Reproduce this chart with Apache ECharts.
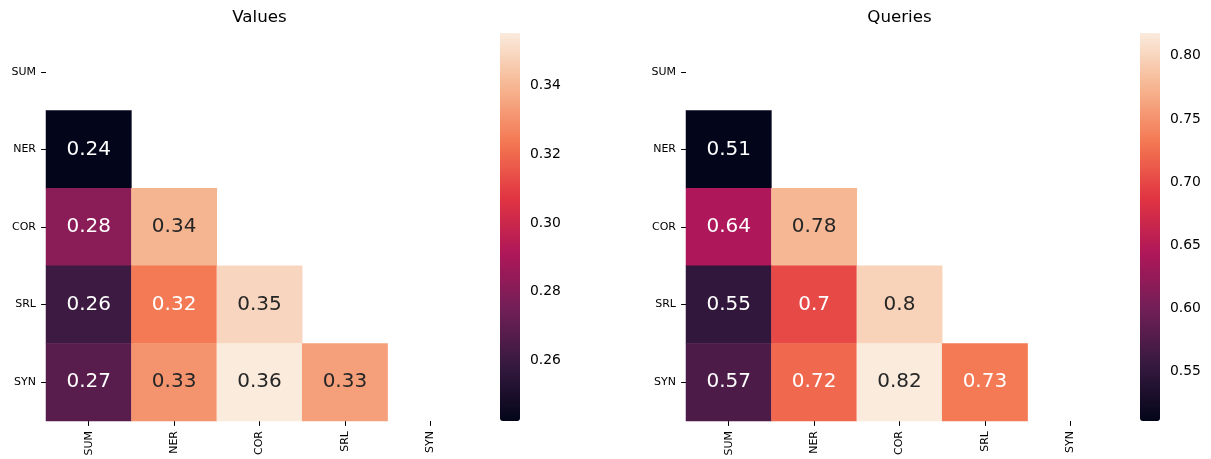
<!DOCTYPE html>
<html>
<head>
<meta charset="utf-8">
<script src="https://cdn.jsdelivr.net/npm/echarts@6/dist/echarts.min.js"></script>
<style>
    html, body { margin: 0; padding: 0; background: #fff; }
    #chart { width: 1211px; height: 459px; }
</style>
</head>
<body>
<div id="chart"></div>
<script>
    // task names (rows and columns)
    const tasks = ['SUM', 'NER', 'COR', 'SRL', 'SYN'];

    // lower triangle only, row i has i values (the rest is masked)
    const valuesLower = [
        [],
        [0.2423],
        [0.2815, 0.3396],
        [0.2604, 0.324, 0.349],
        [0.268, 0.331, 0.3554, 0.334]
    ];
    const queriesLower = [
        [],
        [0.511],
        [0.643, 0.777],
        [0.551, 0.701, 0.798],
        [0.572, 0.722, 0.818, 0.733]
    ];

    // colorbar ranges and ticks
    const valuesRange = [0.2423, 0.3554];
    const queriesRange = [0.511, 0.818];
    const valuesTicks = [0.26, 0.28, 0.30, 0.32, 0.34];
    const queriesTicks = [0.55, 0.60, 0.65, 0.70, 0.75, 0.80];

    // seaborn "rocket"
    const rocket = ['#03051a', '#35193e', '#701f57', '#ad1759', '#e13342', '#f37651', '#f6b48f', '#faebdd'];

    const font = 'DejaVu Sans';

    function fmt2g(v) {
        return Number(v.toPrecision(2)).toString();
    }

    function buildData(lower, range) {
        let out = [];
        lower.forEach(function (row, i) {
            row.forEach(function (v, j) {
                let t = (v - range[0]) / (range[1] - range[0]);
                out.push({
                    value: [j, i, v],
                    label: { color: t > 0.75 ? '#262626' : '#ffffff' }
                });
            });
        });
        return out;
    }

    let chart = echarts.init(document.getElementById('chart'));

    // panel positions
    const panels = [
        { title: 'Values', left: 46, cbLeft: 500, range: valuesRange, ticks: valuesTicks, data: valuesLower },
        { title: 'Queries', left: 686, cbLeft: 1140, range: queriesRange, ticks: queriesTicks, data: queriesLower }
    ];
    const plotTop = 33, plotHeight = 388, plotWidth = 427;

    let option = {
        animation: false,
        backgroundColor: '#fff',
        title: [],
        grid: [],
        xAxis: [],
        yAxis: [],
        visualMap: [],
        series: []
    };

    panels.forEach(function (p, k) {
        option.title.push({
            text: p.title,
            left: p.left + plotWidth / 2,
            textAlign: 'center',
            top: 9,
            padding: 0,
            textStyle: { fontFamily: font, fontSize: 16.7, fontWeight: 'normal', color: '#000' }
        });

        // heatmap grid
        option.grid.push({ left: p.left, top: plotTop, width: plotWidth, height: plotHeight });
        option.xAxis.push({
            type: 'category',
            gridIndex: 2 * k,
            data: tasks,
            axisLine: { show: false },
            axisTick: { show: true, length: 4.9, alignWithLabel: true, lineStyle: { color: '#000', width: 1 } },
            axisLabel: { rotate: 90, fontFamily: font, fontSize: 11, color: '#000', margin: 10 },
            splitLine: { show: false },
            splitArea: { show: false }
        });
        option.yAxis.push({
            type: 'category',
            gridIndex: 2 * k,
            data: tasks,
            inverse: true,
            axisLine: { show: false },
            axisTick: { show: true, length: 4.9, alignWithLabel: true, lineStyle: { color: '#000', width: 1 } },
            axisLabel: { fontFamily: font, fontSize: 11, color: '#000', margin: 10 },
            splitLine: { show: false },
            splitArea: { show: false }
        });

        // colorbar axis grid
        option.grid.push({ left: p.cbLeft, top: plotTop, width: 20, height: plotHeight });
        option.xAxis.push({ type: 'value', gridIndex: 2 * k + 1, show: false });
        option.yAxis.push({
            type: 'value',
            gridIndex: 2 * k + 1,
            position: 'right',
            min: p.range[0],
            max: p.range[1],
            axisLine: { show: false },
            splitLine: { show: false },
            axisTick: { show: true, length: 4.9, customValues: p.ticks, lineStyle: { color: '#000', width: 1 } },
            axisLabel: {
                customValues: p.ticks,
                fontFamily: font,
                fontSize: 13.9,
                color: '#000',
                margin: 10,
                formatter: function (v) { return v.toFixed(2); }
            }
        });

        option.visualMap.push({
            type: 'continuous',
            seriesIndex: k,
            min: p.range[0],
            max: p.range[1],
            calculable: false,
            realtime: false,
            left: p.cbLeft,
            top: plotTop,
            padding: 0,
            itemWidth: 20,
            itemHeight: plotHeight,
            orient: 'vertical',
            hoverLink: false,
            inRange: { color: rocket }
        });

        option.series.push({
            type: 'heatmap',
            xAxisIndex: 2 * k,
            yAxisIndex: 2 * k,
            data: buildData(p.data, p.range),
            label: {
                show: true,
                fontFamily: font,
                fontSize: 20,
                formatter: function (params) { return fmt2g(params.value[2]); }
            },
            itemStyle: { borderWidth: 0 },
            emphasis: { disabled: true }
        });
    });

    chart.setOption(option);
</script>
</body>
</html>
